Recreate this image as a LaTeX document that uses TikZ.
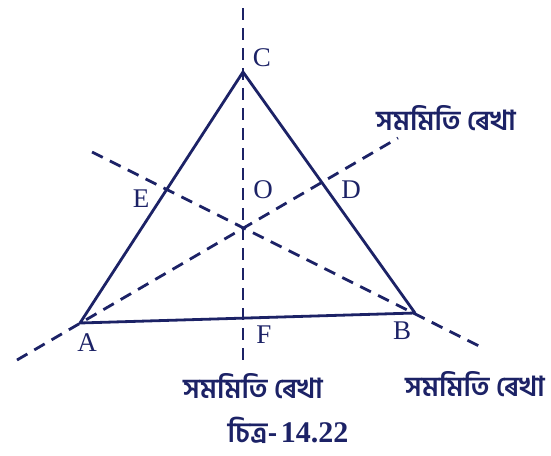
\documentclass[tikz,border=0pt]{standalone}
\usepackage{fontspec}
\setmainfont{Liberation Serif}
\newfontfamily\bnfont[Script=Bengali]{Hind Siliguri}
\usepackage{tikz}
\usetikzlibrary{positioning}
\definecolor{ink}{HTML}{1C2266}

\begin{document}
\begin{tikzpicture}[x=0.5pt, y=-0.5pt, node distance=2pt,
        side/.style = {draw=ink, line width=1.4pt, line join=round},
        axis/.style = {draw=ink, line width=1.4pt, dash pattern=on 6pt off 4pt},
        lbl/.style = {text=ink, font=\fontsize{13.5}{16}\selectfont, inner sep=1pt},
        rekha/.style = {text=ink, font=\bnfont\bfseries\fontsize{13.8}{16}\selectfont, inner sep=0pt}]
            \useasboundingbox (0,0) rectangle (551,455);

            \coordinate (A) at (80,323);
            \coordinate (B) at (415,313);
            \coordinate (C) at (243,72);
            \coordinate (O) at (244,228);
            \coordinate (E) at (167,190);
            \coordinate (D) at (327,182);
            \coordinate (F) at (243,318);

            \coordinate (CTop) at (243,8);
            \coordinate (FEnd) at (243,362);
            \coordinate (AEnd) at (17,360);
            \coordinate (DEnd) at (398,138);
            \coordinate (EEnd) at (92,152);
            \coordinate (BEnd) at (485,349);

            \path[axis] (CTop) -- (FEnd);
            \path[axis] (AEnd) -- (DEnd);
            \path[axis] (EEnd) -- (BEnd);

            \path[side] (A) -- (B) -- (C) -- cycle;

            \node[lbl] (labC) at (262,58) {C};
            \node[lbl] (labE) at (141,199) {E};
            \node[lbl] (labO) at (263,190) {O};
            \node[lbl] (labD) at (351,190) {D};
            \node[lbl] (labA) at (87,343) {A};
            \node[lbl] (labF) at (264,335) {F};
            \node[lbl] (labB) at (402,331) {B};

            \node[rekha] (rekhaD) at (446,118) {সমমিতি ৰেখা};
            \node[rekha] (rekhaF) at (253,386) {সমমিতি ৰেখা};
            \node[rekha] (rekhaB) at (475,384) {সমমিতি ৰেখা};

            \node[text=ink, inner sep=0pt] (caption) at (288,430)
                {{\bnfont\bfseries\fontsize{14}{16}\selectfont চিত্ৰ-}\,{\bfseries\fontsize{15}{17}\selectfont 14.22}};
        \end{tikzpicture}
\end{document}
